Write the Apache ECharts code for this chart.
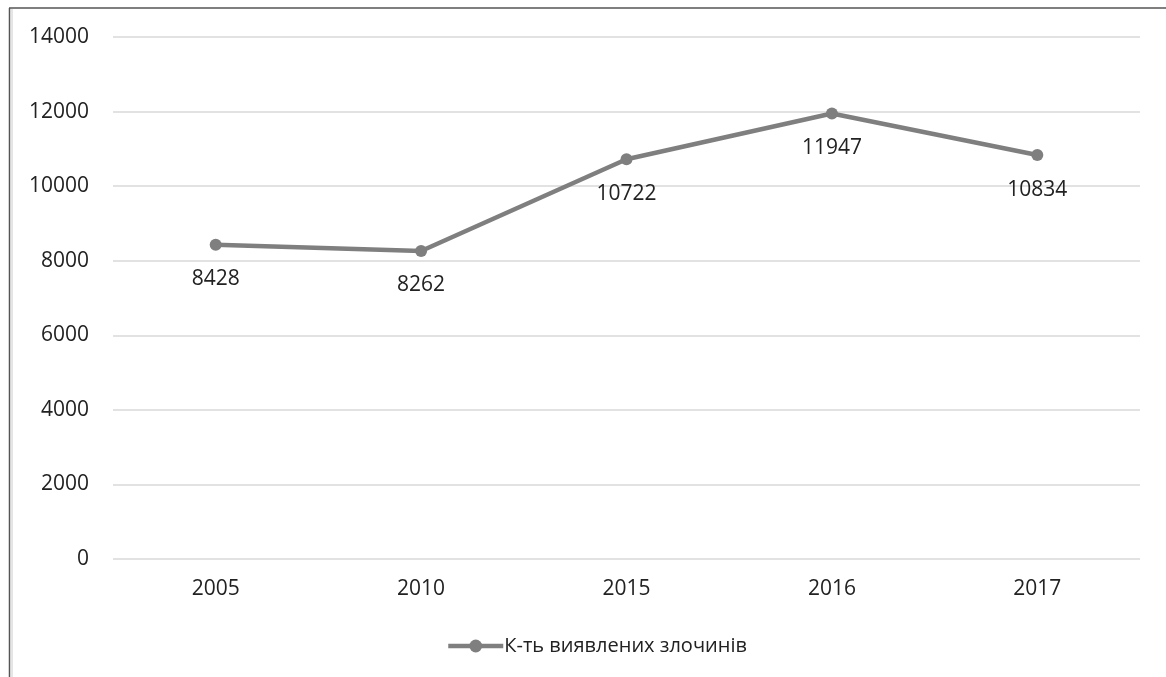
<!DOCTYPE html>
<html><head><meta charset="utf-8">
<script src="https://cdn.jsdelivr.net/npm/echarts@6/dist/echarts.min.js"></script>
<style>html,body{margin:0;padding:0;background:#fff}#c{width:1166px;height:677px}</style>
</head><body><div id="c"></div>
<script>
const categories = ['2005','2010','2015','2016','2017'];
const values = [8428, 8262, 10722, 11947, 10834];
const seriesName = 'К-ть виявлених злочинів';
const yTicks = {min: 0, max: 14000, interval: 2000};

const chart = echarts.init(document.getElementById('c'), null, {renderer:'canvas'});
const font = '"Open Sans", "Noto Sans", sans-serif';
chart.setOption({
  animation: false,
  backgroundColor: '#fff',
  graphic: [
    {type:'line', shape:{x1:9.5,y1:8,x2:9.5,y2:677}, style:{stroke:'#555',lineWidth:1.5}},
    {type:'line', shape:{x1:12,y1:9,x2:12,y2:677}, style:{stroke:'#ccc',lineWidth:1}},
    {type:'line', shape:{x1:9,y1:8,x2:1166,y2:8}, style:{stroke:'#555',lineWidth:1.5}}
  ],
  grid: {left:113, right:26, top:37, bottom:118, containLabel:false},
  legend: {
    top: 631, left: 441,
    itemWidth: 55, itemHeight: 16, itemGap: 10,
    lineStyle: {width: 4.5},
    textStyle: {fontSize: 20, color:'#222', fontFamily: font, padding:[0,0,0,-4]},
    data: [seriesName]
  },
  xAxis: {
    type:'category', data: categories, boundaryGap: true,
    axisLine:{show:false}, axisTick:{show:false},
    axisLabel:{fontSize:21, color:'#222', margin:20, fontFamily: font}
  },
  yAxis: {
    type:'value', min: yTicks.min, max: yTicks.max, interval: yTicks.interval,
    axisLine:{show:false}, axisTick:{show:false},
    splitLine:{lineStyle:{color:'#d9d9d9', width:1.5}},
    axisLabel:{fontSize:21, color:'#222', margin:24, fontFamily: font, formatter: v => String(v)}
  },
  series: [{
    name: seriesName, type:'line', data: values,
    symbol:'circle', symbolSize: 12,
    lineStyle:{color:'#7f7f7f', width:4.5},
    itemStyle:{color:'#7f7f7f'},
    label:{show:true, position:'bottom', distance:18, fontSize:21, color:'#222', fontFamily: font}
  }]
});
</script></body></html>
